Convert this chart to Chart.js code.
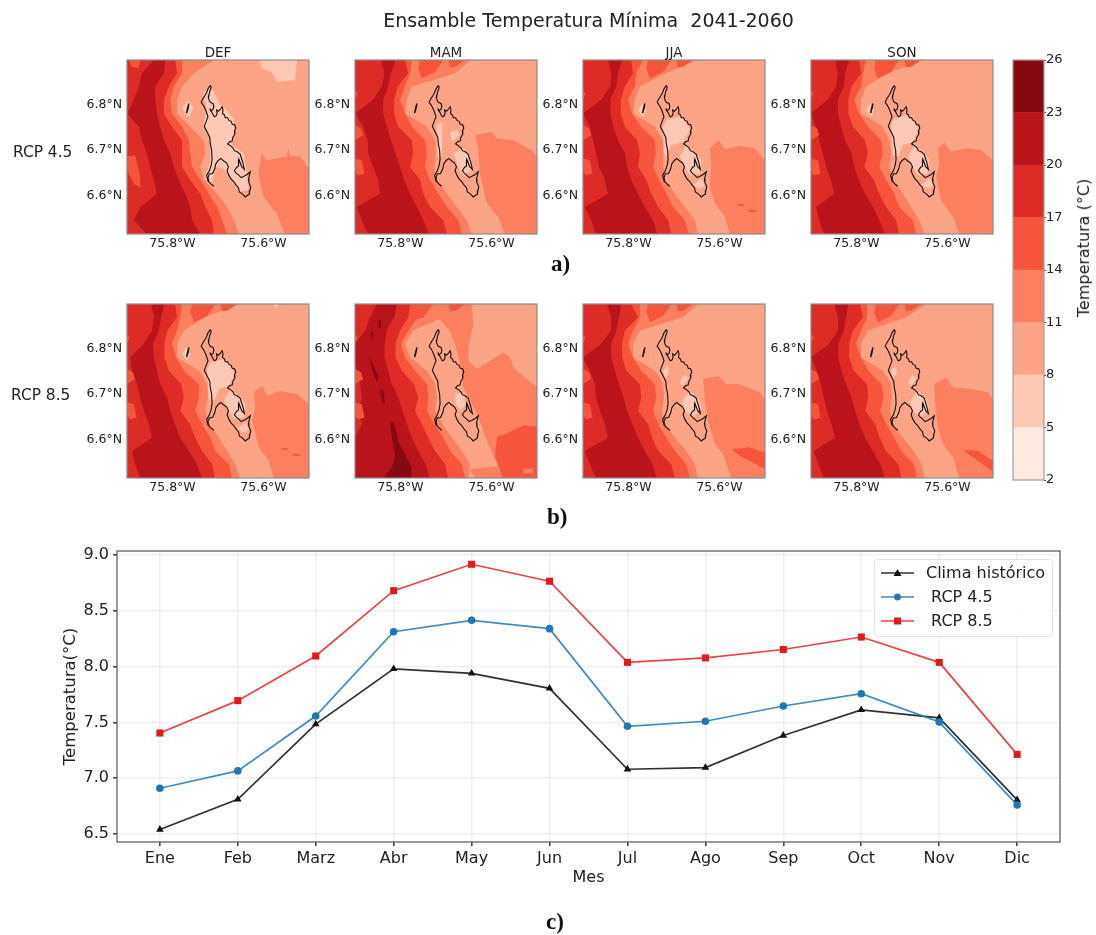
<!DOCTYPE html>
<html><head><meta charset="utf-8">
<script src="https://cdn.jsdelivr.net/npm/chart.js@4/dist/chart.umd.min.js"></script>
<style>
html,body{margin:0;padding:0;background:#fff;width:1096px;height:935px;overflow:hidden}
#page{position:relative;width:1096px;height:935px;font-family:"DejaVu Sans",sans-serif;color:#222}
canvas{position:absolute;filter:blur(.35px)}
.t{position:absolute;white-space:pre;line-height:1;filter:blur(.25px)}
.lab{font-family:"Liberation Serif",serif;font-weight:bold;font-size:23px;color:#111}
</style></head><body><div id="page"></div>
<script>
/* ---------- line chart values ---------- */
const MESES=['Ene','Feb','Marz','Abr','May','Jun','Jul','Ago','Sep','Oct','Nov','Dic'];
const CLIMA=[6.54,6.81,7.485,7.98,7.94,7.805,7.08,7.095,7.383,7.612,7.54,6.805];
const RCP45=[6.91,7.065,7.557,8.312,8.415,8.34,7.465,7.51,7.647,7.757,7.503,6.76];
const RCP85=[7.405,7.695,8.095,8.68,8.917,8.765,8.038,8.078,8.153,8.265,8.038,7.213];
const TICKS_Y=[6.5,7,7.5,8,8.5,9];
/* ---------- colour bar ---------- */
const LEVELS=[2,5,8,11,14,17,20,23,26];
const REDS=['#feeae1','#fdc9b4','#fca486','#fc7f5f','#f6553c','#de2b26','#b91419','#860811'];
/* ---------- map panels: isotherm longitudes, in milli-degrees east of 75.9°W, one per latitude row ---------- */
const LATS=[6.897,6.868,6.839,6.810,6.780,6.751,6.722,6.693,6.664,6.635,6.605,6.576,6.547,6.516];
const DEF45_T20W=[59,33,26,15,0,26,33,44,51,59,66,29,15,44];
const DEF45_T20E=[84,81,62,62,66,73,81,95,103,114,128,139,143,161];
const DEF45_T17=[106,110,92,81,81,99,121,121,121,139,161,172,187,191];
const DEF45_T14=[121,121,103,95,99,121,136,139,143,161,180,198,209,220];
const DEF45_T11=[191,147,121,110,110,139,169,172,161,169,198,220,235,246];
const MAM45_T20W=[57,65,59,40,0,18,28,29,40,51,55,4,15,29];
const MAM45_T20E=[89,79,73,62,62,70,79,89,99,108,121,136,150,163];
const MAM45_T17=[110,117,94,86,86,95,125,128,121,143,150,165,194,202];
const MAM45_T14=[125,121,110,99,110,125,154,158,154,165,183,202,227,235];
const MAM45_T11=[253,220,125,114,110,158,176,178,174,180,202,224,246,257];
const JJA45_T20W=[55,62,60,40,0,15,22,29,35,48,55,4,18,29];
const JJA45_T20E=[86,77,73,60,60,67,77,92,97,106,121,136,154,163];
const JJA45_T17=[106,110,92,83,83,92,119,125,121,139,150,165,187,194];
const JJA45_T14=[132,117,114,99,108,128,158,160,154,167,183,198,224,233];
const JJA45_T11=[249,183,125,114,110,158,176,178,176,180,202,224,246,253];
const SON45_T20W=[53,59,55,37,0,11,18,26,33,44,51,11,18,29];
const SON45_T20E=[84,75,72,59,59,66,75,89,95,105,119,136,150,163];
const SON45_T17=[106,110,89,82,82,92,119,125,117,138,150,165,187,194];
const SON45_T14=[121,114,110,95,106,125,154,158,150,165,183,194,224,231];
const SON45_T11=[246,169,121,110,110,158,172,176,172,180,202,220,238,249];
const DEF85_T20W=[53,59,55,37,7,11,22,29,37,48,55,11,18,29];
const DEF85_T20E=[82,75,70,57,59,66,73,88,95,105,117,136,154,165];
const DEF85_T17=[106,110,89,82,82,92,119,125,117,138,150,165,187,194];
const DEF85_T14=[121,117,110,99,108,125,158,158,150,165,183,194,224,231];
const DEF85_T11=[246,172,125,110,110,158,176,178,172,180,202,220,238,249];
const MAM85_T20W=[48,33,22,0,0,4,11,15,7,15,0,0,0,0];
const MAM85_T20E=[92,86,70,65,65,73,81,95,104,114,125,139,155,165];
const MAM85_T17=[121,117,99,89,89,103,130,139,132,147,161,176,198,205];
const MAM85_T14=[143,139,117,101,110,132,158,161,158,174,194,209,235,242];
const MAM85_T11=[257,194,128,110,121,158,176,180,176,192,213,235,253,249];
const JJA85_T20W=[53,62,62,40,0,15,26,29,37,48,55,4,15,29];
const JJA85_T20E=[84,79,73,62,62,70,79,89,97,108,121,136,152,163];
const JJA85_T17=[106,121,92,86,86,95,125,128,121,143,152,165,194,202];
const JJA85_T14=[125,125,110,99,110,128,158,161,154,165,183,202,227,235];
const JJA85_T11=[253,220,125,110,110,158,176,178,174,180,202,227,246,253];
const SON85_T20W=[51,60,59,40,0,13,22,28,35,45,53,6,16,29];
const SON85_T20E=[82,77,72,60,60,67,77,89,97,106,119,136,152,163];
const SON85_T17=[108,114,92,84,84,94,123,126,119,141,151,165,192,199];
const SON85_T14=[123,123,110,99,110,126,155,160,152,165,183,199,226,233];
const SON85_T11=[253,209,125,110,110,158,176,178,174,180,202,226,243,249];
/* closed contour patches: [milli-deg east of 75.9°W, milli-deg south of 6.897°N] */
const WEST14=[[[0,142],[13,149],[18,164],[0,175]],[[0,215],[15,219],[21,248],[7,252],[0,244]],[[0,66],[6,73],[0,85]]];
const DEF45_WEST14=[[[0,210],[18,208],[28,250],[30,278],[15,270],[0,240]],[[4,0],[30,0],[25,18],[10,14]]];
const TOP14=[[[143,0],[194,0],[176,26],[147,40],[139,18]],[[205,0],[242,0],[220,15],[209,16]]];
const MAM85_TOP14=[[[121,0],[172,0],[150,30],[125,35]],[[205,0],[242,0],[220,15],[209,16]]];
const ISLE5=[[121,109],[130,95],[139,109],[132,124]];
const DEF45_LIGHT=[[[168,73],[183,55],[194,77],[205,98],[216,106],[234,128],[237,157],[226,182],[256,204],[263,244],[267,284],[248,288],[234,266],[212,237],[194,233],[186,273],[172,259],[183,222],[183,171],[168,142],[175,106]],[[121,105],[135,88],[146,105],[135,125]],[[292,0],[374,0],[369,44],[329,47],[318,26],[296,18]]];
const MAM45_LIGHT=[[[180,142],[192,135],[191,211],[182,211]],[[209,157],[224,153],[231,164],[213,179]],[[216,204],[238,193],[253,211],[257,241],[238,252],[227,233]]];
const BODY_B=[[213,211],[227,186],[246,200],[260,219],[257,248],[235,252],[224,233]];
const BODY_C=[[242,273],[260,259],[268,273],[257,281]];
const JJA45_LIGHT=[[[176,146],[183,131],[209,124],[220,128],[235,153],[220,179],[194,186],[183,211],[178,204]],BODY_B,BODY_C,ISLE5];
const SON45_LIGHT=[[[176,142],[183,128],[213,120],[224,130],[236,153],[224,179],[202,186],[192,210],[180,208]],BODY_B,BODY_C,ISLE5];
const DEF85_LIGHT=[[[176,142],[183,128],[213,120],[224,130],[236,153],[224,179],[202,186],[192,210],[180,208]],BODY_B,BODY_C,ISLE5,[[320,0],[334,0],[328,9]]];
const MAM85_LIGHT=[[[220,195],[238,195],[243,219],[233,233],[221,219]]];
const RCP85_LIGHT=[[[176,146],[187,135],[189,149],[180,164]],[[213,171],[224,153],[231,164],[220,179]],[[218,211],[235,190],[253,208],[260,226],[246,244],[231,241],[220,226]]];
const DEF45_SE=[[296,204],[307,219],[351,211],[355,193],[358,211],[380,211],[400,237],[400,381],[347,381],[329,335],[300,299],[289,248]];
const MAM45_SE=[[264,164],[300,157],[312,171],[348,175],[388,197],[400,211],[400,381],[330,381],[315,343],[290,313],[275,252],[271,197]];
const JJA45_SE=[[279,193],[297,175],[312,195],[345,188],[377,193],[400,219],[400,381],[323,381],[312,343],[290,313],[279,277],[282,226]];
const SON45_SE=[[279,193],[293,181],[308,200],[345,193],[374,197],[400,219],[400,381],[326,381],[312,343],[286,306],[275,255],[282,226]];
const DEF85_SE=[[279,193],[297,179],[308,200],[337,190],[374,197],[400,219],[400,381],[323,381],[312,343],[290,313],[275,255],[282,226]];
const MAM85_SE=[[257,0],[260,44],[249,95],[249,124],[268,142],[326,106],[341,117],[348,139],[400,182],[400,381],[315,381],[312,348],[290,299],[271,246],[257,219],[238,182],[235,146]];
const MAM85_NE=[[147,0],[257,0],[249,95],[235,146],[220,87],[205,55],[183,29],[147,29]];
const MAM85_S=[[253,361],[315,354],[315,381],[264,381]];
const JJA85_SE=[[264,164],[297,157],[315,175],[345,175],[388,193],[400,208],[400,381],[326,381],[308,328],[290,306],[275,255],[268,211]];
const SON85_SE=[[271,175],[297,160],[312,182],[352,186],[388,193],[400,208],[400,381],[326,381],[312,335],[290,306],[279,270],[273,219]];
const DASHES14=[[[341,315],[353,315],[353,319],[341,319]],[[364,327],[381,328],[381,332],[364,331]]];
const MAM85_SE14=[[[312,290],[334,283],[370,265],[400,268],[400,381],[326,381],[308,334]]];
const MAM85_HOLE=[[370,359],[392,359],[392,370],[370,370]];
const JJA85_SE14=[[[326,317],[367,313],[388,321],[400,324],[400,361],[367,343],[345,332]]];
const SON85_SE14=[[[334,319],[367,321],[400,343],[400,365],[367,343]]];
const MAM85_HOT=[[[77,257],[86,259],[95,299],[110,328],[125,357],[123,379],[62,381],[81,357],[88,328],[81,292]],[[52,35],[57,35],[57,53],[52,53]],[[36,60],[40,60],[38,79],[36,79]],[[31,112],[37,128],[51,157],[48,171],[38,146]],[[55,188],[62,188],[66,217],[60,217]]];
/* municipal boundary, [lon, lat] in degrees */
const BORDER=[[-75.717,6.841],[-75.715,6.838],[-75.716,6.833],[-75.718,6.829],[-75.720,6.820],[-75.721,6.813],[-75.718,6.806],[-75.716,6.804],[-75.711,6.802],[-75.709,6.796],[-75.711,6.789],[-75.716,6.786],[-75.718,6.791],[-75.714,6.784],[-75.711,6.778],[-75.708,6.773],[-75.704,6.775],[-75.702,6.780],[-75.703,6.788],[-75.699,6.785],[-75.695,6.789],[-75.691,6.795],[-75.689,6.788],[-75.690,6.780],[-75.686,6.777],[-75.684,6.771],[-75.679,6.771],[-75.676,6.765],[-75.671,6.763],[-75.669,6.757],[-75.663,6.755],[-75.661,6.748],[-75.664,6.742],[-75.663,6.735],[-75.667,6.729],[-75.669,6.720],[-75.674,6.719],[-75.679,6.714],[-75.673,6.710],[-75.667,6.705],[-75.664,6.699],[-75.657,6.696],[-75.651,6.691],[-75.649,6.684],[-75.646,6.675],[-75.644,6.667],[-75.642,6.658],[-75.648,6.664],[-75.651,6.672],[-75.654,6.680],[-75.656,6.673],[-75.654,6.665],[-75.659,6.663],[-75.664,6.655],[-75.660,6.650],[-75.655,6.646],[-75.649,6.640],[-75.643,6.643],[-75.636,6.647],[-75.629,6.653],[-75.631,6.645],[-75.633,6.637],[-75.632,6.629],[-75.628,6.620],[-75.630,6.612],[-75.631,6.604],[-75.636,6.601],[-75.640,6.598],[-75.646,6.604],[-75.653,6.609],[-75.655,6.618],[-75.661,6.625],[-75.665,6.631],[-75.671,6.637],[-75.676,6.645],[-75.680,6.655],[-75.677,6.664],[-75.681,6.672],[-75.688,6.677],[-75.694,6.682],[-75.700,6.677],[-75.705,6.670],[-75.707,6.660],[-75.712,6.649],[-75.719,6.648],[-75.722,6.640],[-75.720,6.631],[-75.714,6.625],[-75.709,6.621],[-75.716,6.627],[-75.722,6.633],[-75.725,6.645],[-75.719,6.655],[-75.715,6.667],[-75.713,6.680],[-75.714,6.700],[-75.717,6.715],[-75.718,6.728],[-75.723,6.738],[-75.730,6.752],[-75.726,6.763],[-75.722,6.773],[-75.726,6.785],[-75.731,6.796],[-75.737,6.805],[-75.733,6.813],[-75.729,6.819],[-75.725,6.826],[-75.722,6.834],[-75.717,6.841]];
const ISLE=[[-75.764,6.802],[-75.766,6.791],[-75.769,6.781],[-75.767,6.791],[-75.764,6.802]];

const PANELS=[
 {title:'DEF',left:127,top:60,w:DEF45_T20W,e:DEF45_T20E,t17:DEF45_T17,t14:DEF45_T14,t11:DEF45_T11,light:DEF45_LIGHT,se:[DEF45_SE],top14:[],west:DEF45_WEST14},
 {title:'MAM',left:355,top:60,w:MAM45_T20W,e:MAM45_T20E,t17:MAM45_T17,t14:MAM45_T14,t11:MAM45_T11,light:MAM45_LIGHT,se:[MAM45_SE],top14:TOP14,west:WEST14},
 {title:'JJA',left:583,top:60,w:JJA45_T20W,e:JJA45_T20E,t17:JJA45_T17,t14:JJA45_T14,t11:JJA45_T11,light:JJA45_LIGHT,se:[JJA45_SE],se14:DASHES14,top14:TOP14,west:WEST14},
 {title:'SON',left:811,top:60,w:SON45_T20W,e:SON45_T20E,t17:SON45_T17,t14:SON45_T14,t11:SON45_T11,light:SON45_LIGHT,se:[SON45_SE],top14:TOP14,west:WEST14},
 {title:'',left:127,top:304,w:DEF85_T20W,e:DEF85_T20E,t17:DEF85_T17,t14:DEF85_T14,t11:DEF85_T11,light:DEF85_LIGHT,se:[DEF85_SE],se14:DASHES14,top14:TOP14,west:WEST14},
 {title:'',left:355,top:304,w:MAM85_T20W,e:MAM85_T20E,t17:MAM85_T17,t14:MAM85_T14,t11:MAM85_T11,light:MAM85_LIGHT,se:[MAM85_SE,MAM85_NE],se14:MAM85_SE14,after14:[MAM85_HOLE,MAM85_S],top14:MAM85_TOP14,west:WEST14,hot:MAM85_HOT},
 {title:'',left:583,top:304,w:JJA85_T20W,e:JJA85_T20E,t17:JJA85_T17,t14:JJA85_T14,t11:JJA85_T11,light:RCP85_LIGHT,se:[JJA85_SE],se14:JJA85_SE14,top14:TOP14,west:WEST14},
 {title:'',left:811,top:304,w:SON85_T20W,e:SON85_T20E,t17:SON85_T17,t14:SON85_T14,t11:SON85_T11,light:RCP85_LIGHT,se:[SON85_SE],se14:SON85_SE14,top14:TOP14,west:WEST14}
];

/* ---------- helpers ---------- */
const page=document.getElementById('page');
function text(s,x,y,css,cls){const d=document.createElement('div');d.className='t '+(cls||'');d.textContent=s;d.style.cssText=`left:${x}px;top:${y}px;${css||''}`;page.appendChild(d);return d;}
function canvas(l,t,w,h){const c=document.createElement('canvas');c.width=w;c.height=h;c.style.cssText=`left:${l}px;top:${t}px;width:${w}px;height:${h}px`;page.appendChild(c);return c;}
const LON0=-75.9,LAT0=6.897;
const pt=([v,w])=>({x:LON0+v/1000,y:LAT0-w/1000});
const frame=(color,width)=>({id:'frame',afterDatasetsDraw(ch){const a=ch.chartArea,c=ch.ctx;c.save();c.strokeStyle=color;c.lineWidth=width;c.strokeRect(a.left,a.top,a.right-a.left,a.bottom-a.top);c.restore();}});
Chart.defaults.font.family='"DejaVu Sans",sans-serif';
Chart.defaults.animation=false;
Chart.defaults.responsive=false;
Chart.defaults.devicePixelRatio=1;

/* ---------- maps ---------- */
function panelDatasets(p){
 const L=[];
 const add=(c,pts)=>L.push({data:pts,backgroundColor:c,borderWidth:0,pointRadius:0,fill:'shape',tension:0});
 const poly=(c,a)=>add(c,a.map(pt));
 const band=(c,row)=>add(c,[{x:LON0,y:LATS[0]},...row.map((v,i)=>({x:LON0+v/1000,y:LATS[i]})),{x:LON0,y:LATS[LATS.length-1]}]);
 poly(REDS[2],[[0,0],[400,0],[400,381],[0,381]]);
 p.light.forEach(a=>poly(REDS[1],a));
 p.se.forEach(a=>poly(REDS[3],a));
 band(REDS[3],p.t11);
 (p.se14||[]).forEach(a=>poly(REDS[4],a));
 (p.after14||[]).forEach(a=>poly(REDS[3],a));
 band(REDS[4],p.t14);
 p.top14.forEach(a=>poly(REDS[4],a));
 band(REDS[5],p.t17);
 add(REDS[6],[...p.w.map((v,i)=>({x:LON0+v/1000,y:LATS[i]})),...p.e.map((v,i)=>({x:LON0+v/1000,y:LATS[i]})).reverse()]);
 p.west.forEach(a=>poly(REDS[4],a));
 (p.hot||[]).forEach(a=>poly(REDS[7],a));
 const line=(a,bw)=>L.push({data:a.map(([x,y])=>({x,y})),borderColor:'#111',borderWidth:bw,pointRadius:0,fill:false,tension:0});
 line(BORDER,1.1);
 line(ISLE,1.4);
 L.forEach((d,i)=>d.order=L.length-i);
 return L;
}
PANELS.forEach(p=>{
 const padL=66,padT=20,padB=28,padR=6;
 new Chart(canvas(p.left-padL,p.top-padT,padL+182+padR,padT+174+padB),{
  type:'line',
  data:{datasets:panelDatasets(p)},
  plugins:[frame('#8c8c8c',1.2)],
  options:{
   layout:{padding:{top:padT,right:padR,bottom:0,left:0}},
   plugins:{legend:{display:false},tooltip:{enabled:false}},
   scales:{
    x:{type:'linear',min:-75.9,max:-75.5,grid:{display:false,drawTicks:false},border:{display:false},
       afterBuildTicks:s=>{s.ticks=[{value:-75.8},{value:-75.6}];},
       afterFit:s=>{s.height=padB;},
       ticks:{font:{size:12.5},color:'#222',padding:2,maxRotation:0,autoSkip:false,callback:v=>Math.abs(v).toFixed(1)+'°W'}},
    y:{type:'linear',min:6.517,max:6.897,grid:{display:false,drawTicks:false},border:{display:false},
       afterBuildTicks:s=>{s.ticks=[{value:6.6},{value:6.7},{value:6.8}];},
       afterFit:s=>{s.width=padL;},
       ticks:{font:{size:12.5},color:'#222',padding:5,autoSkip:false,callback:v=>v.toFixed(1)+'°N'}}
   }
  }
 });
 if(p.title){text(p.title,p.left,46,'width:182px;text-align:center;font-size:13.5px');}
});

/* ---------- colour bar ---------- */
new Chart(canvas(1003,50,70,440),{
 type:'bar',
 data:{labels:[''],datasets:REDS.map((c,i)=>({data:[[LEVELS[i],LEVELS[i+1]]],backgroundColor:c,borderWidth:0,grouped:false,categoryPercentage:1,barPercentage:1}))},
 plugins:[frame('#a0a0a0',1.2)],
 options:{
  layout:{padding:{top:10,bottom:10,left:10,right:0}},
  plugins:{legend:{display:false},tooltip:{enabled:false}},
  scales:{
   x:{display:false},
   y:{position:'right',min:2,max:26,border:{display:false},
      grid:{drawOnChartArea:false,tickLength:2,tickColor:'#444'},
      afterBuildTicks:s=>{s.ticks=LEVELS.map(value=>({value}));},
      afterFit:s=>{s.width=29;},
      ticks:{font:{size:13},color:'#222',padding:0,autoSkip:false}}
  }
 }
});

/* ---------- line chart ---------- */
const SERIES=[
 {label:'Clima histórico',data:CLIMA,line:'rgba(20,20,20,.88)',mark:'#111',style:'triangle',r:4.4,order:3},
 {label:' RCP 4.5',data:RCP45,line:'rgba(31,120,180,.85)',mark:'#1f78b4',style:'circle',r:3.8,order:2},
 {label:' RCP 8.5',data:RCP85,line:'rgba(227,26,28,.82)',mark:'#e31a1c',style:'rect',r:5,order:1}
];
const boxLegend={id:'boxLegend',afterDraw(ch){
 const c=ch.ctx;c.save();
 c.beginPath();c.roundRect(874.5,559.5-540,178,77,3);c.fillStyle='rgba(255,255,255,.8)';c.fill();c.strokeStyle='#e2e2e2';c.lineWidth=1;c.stroke();
 SERIES.forEach((s,i)=>{
  const y=573-540+24*i;
  c.strokeStyle=s.line;c.lineWidth=1.7;c.beginPath();c.moveTo(881,y);c.lineTo(914,y);c.stroke();
  c.fillStyle=s.mark;
  if(s.style==='circle'){c.beginPath();c.arc(897.5,y,3.4,0,7);c.fill();}
  else if(s.style==='rect'){c.fillRect(894,y-3.5,7,7);}
  else{c.beginPath();c.moveTo(897.5,y-4);c.lineTo(901.5,y+3);c.lineTo(893.5,y+3);c.fill();}
  c.fillStyle='#222';c.font='16px "DejaVu Sans"';c.textBaseline='middle';c.textAlign='left';
  c.fillText(s.label,926,y+1);
 });
 c.restore();
}};
new Chart(canvas(0,540,1096,350),{
 type:'line',
 data:{datasets:SERIES.map(s=>({label:s.label,data:s.data.map((y,x)=>({x,y})),borderColor:s.line,borderWidth:1.7,backgroundColor:s.mark,pointBackgroundColor:s.mark,pointBorderWidth:0,pointStyle:s.style,pointRadius:s.r,tension:0,order:s.order}))},
 plugins:[frame('#555',1.2),boxLegend],
 options:{
  layout:{padding:{top:11,right:36,bottom:0,left:0}},
  plugins:{legend:{display:false},tooltip:{enabled:false}},
  scales:{
   x:{type:'linear',min:-0.55,max:11.55,border:{display:false},
      grid:{color:'rgba(0,0,0,.06)',lineWidth:1.6,tickColor:'#444',tickLength:4},
      afterBuildTicks:s=>{s.ticks=MESES.map((m,value)=>({value}));},
      afterFit:s=>{s.height=48;},
      title:{display:true,text:'Mes',font:{size:16},color:'#222',padding:{top:0,bottom:3}},
      ticks:{font:{size:16},color:'#222',padding:3,maxRotation:0,autoSkip:false,callback:v=>MESES[v]}},
   y:{min:6.428,max:9.036,border:{display:false},
      grid:{color:'rgba(0,0,0,.06)',lineWidth:1.6,tickColor:'#444',tickLength:4},
      afterBuildTicks:s=>{s.ticks=TICKS_Y.map(value=>({value}));},
      afterFit:s=>{s.width=117;s.paddingTop=0;s.paddingBottom=0;},
      title:{display:true,text:'Temperatura(°C)',font:{size:16.5},color:'#222',padding:{top:61,bottom:0}},
      ticks:{font:{size:16},color:'#222',padding:4,autoSkip:false,callback:v=>v.toFixed(1)}}
  }
 }
});

/* ---------- page text ---------- */
text('Ensamble Temperatura Mínima  2041-2060',0,11,'width:1177px;text-align:center;font-size:19px');
text('RCP 4.5',13,145,'font-size:15.4px');
text('RCP 8.5',11,388,'font-size:15.4px');
text('a)',551,252,'','lab');
text('b)',547,505,'','lab');
text('c)',546,910,'','lab');
text('Temperatura (°C)',1084,248,'font-size:16px;transform:translate(-50%,-50%) rotate(-90deg);transform-origin:center');
</script></body></html>
